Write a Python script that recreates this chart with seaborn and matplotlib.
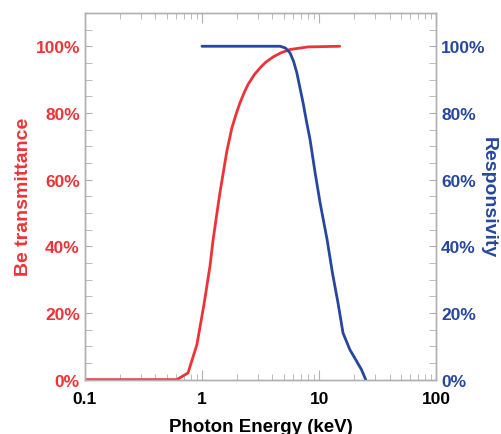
import numpy as np
import pandas as pd
import seaborn as sns
import matplotlib.pyplot as plt
from matplotlib.ticker import FixedLocator, MultipleLocator, FuncFormatter, LogLocator, NullFormatter

# --- data ---
be_energy = [0.1, 0.3, 0.61, 0.76, 0.905, 1.04, 1.17, 1.24, 1.33, 1.43, 1.51, 1.63, 1.8,
             1.95, 2.11, 2.3, 2.47, 2.8, 3.13, 3.5, 4.05, 4.7, 5.6, 8.0, 15.0]
be_trans = [0.0, 0.0, 0.0, 0.02, 0.105, 0.225, 0.34, 0.415, 0.49, 0.565, 0.615, 0.685, 0.755,
            0.795, 0.83, 0.862, 0.885, 0.915, 0.935, 0.952, 0.968, 0.98, 0.99, 0.998, 1.0]

resp_energy = [1.0, 2.0, 4.0, 4.64, 5.15, 5.65, 6.05, 6.46, 7.3, 7.8, 8.37, 8.8, 9.25, 10.2,
               11.7, 13.0, 14.5, 16.0, 18.3, 21.0, 23.0, 25.0]
resp_val = [1.0, 1.0, 1.0, 1.0, 0.995, 0.98, 0.955, 0.92, 0.83, 0.775, 0.72, 0.67, 0.62, 0.53,
            0.42, 0.32, 0.23, 0.14, 0.09, 0.054, 0.03, 0.0]

red = '#ee3338'
blue = '#26479d'
grey = '#b0b0b0'

be_df = pd.DataFrame({'energy': be_energy, 'value': be_trans})
resp_df = pd.DataFrame({'energy': resp_energy, 'value': resp_val})

sns.set_style('white')
plt.rcParams['font.family'] = ['Liberation Sans', 'DejaVu Sans']
plt.rcParams['font.weight'] = 'bold'

fig, ax = plt.subplots(figsize=(5.02, 4.35), dpi=100)
fig.subplots_adjust(left=0.169, right=0.869, top=0.968, bottom=0.125)
ax2 = ax.twinx()

sns.lineplot(data=be_df, x='energy', y='value', ax=ax, color=red, linewidth=2)
sns.lineplot(data=resp_df, x='energy', y='value', ax=ax2, color=blue, linewidth=2)

pct = FuncFormatter(lambda v, p: f'{v*100:.0f}%')
for a in (ax, ax2):
    a.set_xscale('log')
    a.set_xlim(0.1, 100)
    a.set_ylim(0, 1.1)
    a.yaxis.set_major_locator(FixedLocator([0, 0.2, 0.4, 0.6, 0.8, 1.0]))
    a.yaxis.set_minor_locator(MultipleLocator(0.05))
    a.yaxis.set_major_formatter(pct)
    for s in a.spines.values():
        s.set_color(grey)
        s.set_linewidth(1)

ax.xaxis.set_major_locator(LogLocator(base=10))
ax.xaxis.set_minor_locator(LogLocator(base=10, subs=np.arange(2, 10)))
ax.xaxis.set_minor_formatter(NullFormatter())
ax.xaxis.set_major_formatter(FuncFormatter(lambda v, p: f'{v:g}'))

ax.tick_params(axis='x', which='both', direction='in', top=True, bottom=True,
               color=grey, labelsize=12.5, labelcolor='black', pad=8)
ax.tick_params(axis='x', which='major', length=7)
ax.tick_params(axis='x', which='minor', length=4)
ax.tick_params(axis='y', which='both', direction='in', left=True, right=False,
               color=grey, labelsize=12.5, labelcolor=red, length=5)
ax2.tick_params(axis='y', which='both', direction='in', right=True, left=False,
                color=grey, labelsize=12.5, labelcolor=blue, length=5)

ax.set_xlabel('Photon Energy (keV)', fontsize=13.5, fontweight='bold', color='black', labelpad=9)
ax.set_ylabel('Be transmittance', fontsize=14, fontweight='bold', color=red,
              va='center', ha='center')
ax.yaxis.set_label_coords(-0.174, 0.5)
ax2.set_ylabel('Responsivity', fontsize=14, fontweight='bold', color=blue,
               rotation=270, va='center', ha='center')
ax2.yaxis.set_label_coords(1.148, 0.5)

fig.savefig('out.png', dpi=100)
